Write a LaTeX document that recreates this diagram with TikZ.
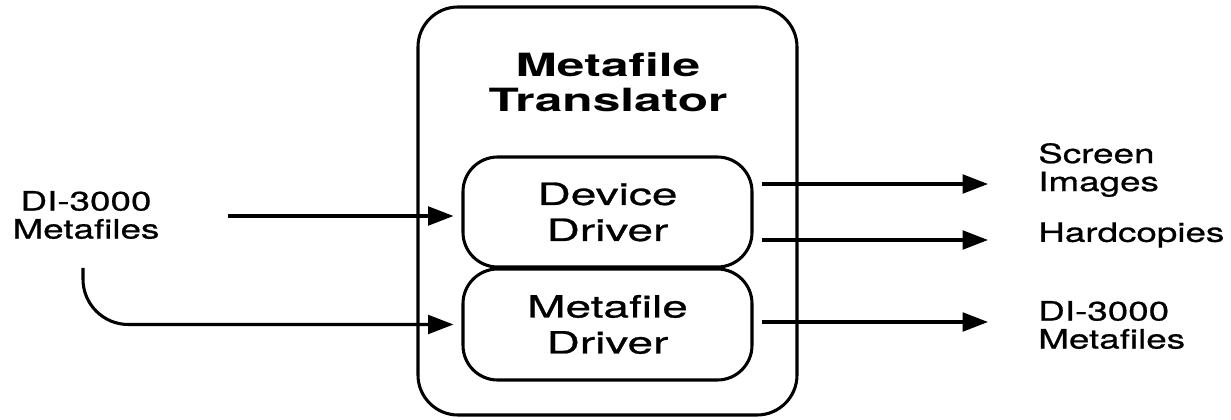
\documentclass[tikz,border=0pt]{standalone}
\usepackage{fontspec}
\setmainfont{TeX Gyre Heros}
\newfontfamily\lblfont{TeX Gyre Heros}[FakeStretch=1.38,FakeBold=0.8]
\newfontfamily\boxfont{TeX Gyre Heros}[FakeStretch=1.5,FakeBold=0.8]
\newfontfamily\ttlfont{TeX Gyre Heros}[FakeStretch=1.55]
\usetikzlibrary{arrows.meta}
\tikzset{
  lbl/.style={inner sep=0pt, align=center, font={\lblfont\fontsize{20pt}{21pt}\selectfont}},
  lblw/.style={lbl, anchor=west, align=left},
  drv/.style={draw, line width=2.3pt, rounded corners=26pt, minimum width=216.75pt, minimum height=82.5pt, inner sep=0pt, align=center, font={\boxfont\fontsize{23pt}{27pt}\selectfont}},
  outerbox/.style={draw, line width=2.3pt, rounded corners=30pt, minimum width=284.25pt, minimum height=306pt, inner sep=0pt},
  ttl/.style={inner sep=0pt, align=center, font={\ttlfont\bfseries\fontsize{24pt}{26pt}\selectfont}},
  arr/.style={line width=2.3pt, -{Triangle[length=19pt,width=14pt]}},
}
\begin{document}
\begin{tikzpicture}[x=0.75pt,y=-0.75pt]
\useasboundingbox (0,0) rectangle (1231,420);
% outer box
\node[outerbox] (outer) at (607.5,211) {};
\node[ttl] (title) at (608,82) {Metafile\\Translator};
% driver boxes
\node[drv] (dev) at (607.5,212) {Device\\Driver};
\node[drv, minimum height=83.25pt] (met) at (607.5,324.5) {Metafile\\Driver};
% left label
\node[lbl] (inlbl) at (86,215) {DI-3000\\Metafiles};
% right labels
\node[lblw] (scr) at (1038,170) {Screen\\Images};
\node[lblw] (hard) at (1038,235) {Hardcopies};
\node[lblw] (outm) at (1038,325) {DI-3000\\Metafiles};
% connector endpoints
\coordinate (in1) at (228,216);
\coordinate (in2) at (83,268);
\coordinate (o1) at (762,184);
\coordinate (o2) at (762,240);
\coordinate (o3) at (762,322);
\coordinate (t1) at (988,184);
\coordinate (t2) at (988,240);
\coordinate (t3) at (988,322);
% connectors
\draw[arr, shorten >=6pt] (in1) -- (dev.west |- in1);
\draw[arr, shorten >=6pt, rounded corners=34pt] (in2) |- (met.west);
\draw[arr] (o1) -- (t1);
\draw[arr] (o2) -- (t2);
\draw[arr] (o3) -- (t3);
\end{tikzpicture}
\end{document}
